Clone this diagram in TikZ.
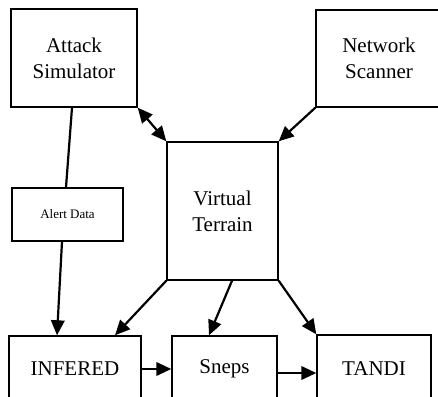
\documentclass[tikz,border=0pt]{standalone}
\usepackage{fontspec}
\setmainfont{Liberation Serif}
\usetikzlibrary{arrows.meta}
\begin{document}
\begin{tikzpicture}[x=1pt,y=1pt,
  box/.style={draw,line width=1.4pt,rectangle,inner sep=0pt,align=center,
    font=\fontsize{21}{26}\selectfont},
  tip/.tip={Triangle[length=15pt,width=13.5pt]},
  conn/.style={line width=2.2pt,-tip},
  plain/.style={line width=2.2pt}]
\useasboundingbox (0,0) rectangle (438,396);
\node[box,minimum width=126pt,minimum height=98pt] (as) at (74,338) {Attack\\Simulator};
\node[box,minimum width=126pt,minimum height=97pt] (ns) at (379,337.5) {Network\\Scanner};
\node[box,minimum width=111pt,minimum height=138pt] (vt) at (222.5,185) {Virtual\\Terrain};
\node[box,minimum width=111pt,minimum height=53pt,font=\fontsize{13}{16}\selectfont] (ad) at (67.5,181.5) {Alert Data};
\node[box,minimum width=132pt,minimum height=66pt] (inf) at (75,27) {INFERED};
\node[box,minimum width=105pt,minimum height=66pt] (sn) at (224.5,27) {Sneps};
\node[box,minimum width=114pt,minimum height=68pt] (ta) at (374,27) {TANDI};
\draw[line width=2.2pt,tip-tip] (as.south east) -- (vt.north west);
\draw[conn] (ns.south west) -- (vt.north east);
\draw[plain] ([xshift=-2pt]as.south) -- ([xshift=-1.5pt]ad.north);
\draw[conn] ([xshift=-5.5pt]ad.south) -- ([xshift=-18pt]inf.north);
\draw[conn] (vt.south west) -- ([xshift=40pt]inf.north);
\draw[conn] ([xshift=9.5pt]vt.south) -- ([xshift=-15.5pt]sn.north);
\draw[conn] (vt.south east) -- (ta.north west);
\draw[conn] (inf.east) -- (sn.west);
\draw[conn] ([yshift=-4pt]sn.east) -- ([yshift=-4pt]ta.west);
\end{tikzpicture}
\end{document}
